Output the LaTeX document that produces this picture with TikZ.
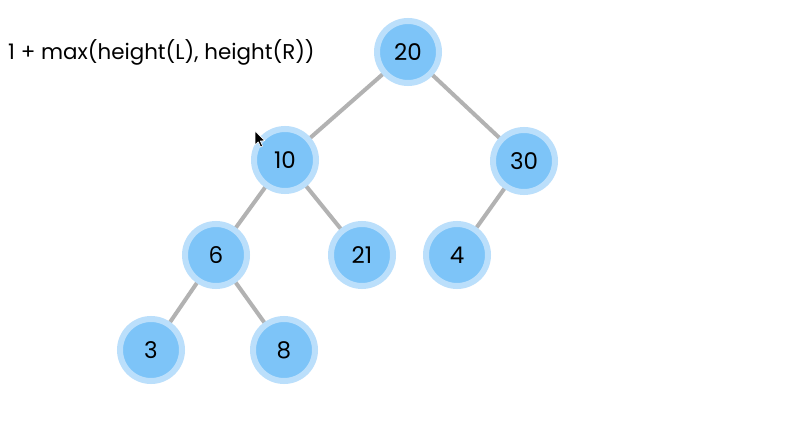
\documentclass[tikz,border=0pt]{standalone}
\usepackage{fontspec}
\setmainfont{Poppins}
\usetikzlibrary{backgrounds}
\definecolor{nodefill}{RGB}{125,196,248}
\definecolor{nodering}{RGB}{187,223,251}
\definecolor{edgegray}{RGB}{178,178,178}
\begin{document}
\begin{tikzpicture}[x=1pt,y=-1pt,
  treenode/.style={circle,fill=nodefill,draw=nodering,line width=6pt,
    minimum size=62pt,inner sep=0pt,font=\fontsize{23}{26}\selectfont,text=black},
  treeedge/.style={draw=edgegray,line width=4pt}]
\useasboundingbox (0,0) rectangle (794,430);

\node[anchor=base west,font=\fontsize{21.4}{25}\selectfont,inner sep=0pt] (formula) at (8,60) {1 + max(height(L), height(R))};

\node[treenode] (n20) at (408,52) {20};
\node[treenode] (n10) at (285,160) {10};
\node[treenode] (n30) at (524,161) {30};
\node[treenode] (n6) at (216,255) {6};
\node[treenode] (n21) at (362,255) {21};
\node[treenode] (n4) at (457,255) {4};
\node[treenode] (n3) at (151,350) {3};
\node[treenode] (n8) at (284,350) {8};

\begin{scope}[on background layer]
  \fill[white] (0,0) rectangle (794,430);
  \draw[treeedge] (n20.center) -- (n10.center);
  \draw[treeedge] (n20.center) -- (n30.center);
  \draw[treeedge] (n10.center) -- (n6.center);
  \draw[treeedge] (n10.center) -- (n21.center);
  \draw[treeedge] (n30.center) -- (n4.center);
  \draw[treeedge] (n6.center) -- (n3.center);
  \draw[treeedge] (n6.center) -- (n8.center);
\end{scope}

% mouse pointer
\filldraw[fill=black,draw=white,line width=0.6pt,line join=round]
  (255,131) -- (255,145) -- (258.3,141.8) -- (260.6,147) -- (262.6,146.1)
  -- (260.3,141) -- (264.8,140.6) -- cycle;
\end{tikzpicture}
\end{document}
